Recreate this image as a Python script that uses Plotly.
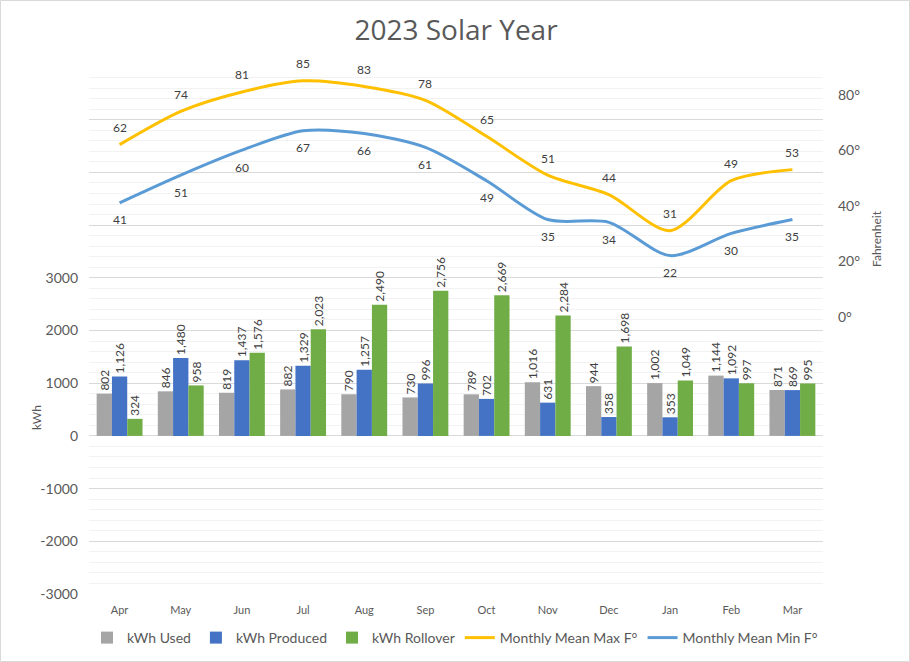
import plotly.graph_objects as go

months = ["Apr", "May", "Jun", "Jul", "Aug", "Sep", "Oct", "Nov", "Dec", "Jan", "Feb", "Mar"]
kwh_used = [802, 846, 819, 882, 790, 730, 789, 1016, 944, 1002, 1144, 871]
kwh_produced = [1126, 1480, 1437, 1329, 1257, 996, 702, 631, 358, 353, 1092, 869]
kwh_rollover = [324, 958, 1576, 2023, 2490, 2756, 2669, 2284, 1698, 1049, 997, 995]
temp_max = [62, 74, 81, 85, 83, 78, 65, 51, 44, 31, 49, 53]
temp_min = [41, 51, 60, 67, 66, 61, 49, 35, 34, 22, 30, 35]

kwh_ticks = list(range(-3000, 7001, 1000))
kwh_ticktext = [str(v) if v <= 3000 else "" for v in kwh_ticks]
deg_ticks = [0, 20, 40, 60, 80]

FONT = "Lato"
GREY_TXT = "#595959"
LBL = "#404040"

fig = go.Figure()
for name, vals, col in [("kWh Used", kwh_used, "#A5A5A5"),
                        ("kWh Produced", kwh_produced, "#4472C4"),
                        ("kWh Rollover", kwh_rollover, "#70AD47")]:
    fig.add_trace(go.Bar(x=months, y=vals, name=name, marker=dict(color=col, line=dict(width=0)),
                         texttemplate="%{y:,}", textposition="outside", textangle=-90,
                         constraintext="none", cliponaxis=False,
                         textfont=dict(family=FONT, size=12, color=LBL)))

fig.add_trace(go.Scatter(x=months, y=temp_max, name="Monthly Mean Max F°", yaxis="y2", mode="lines",
                         line=dict(color="#FFC000", width=3, shape="spline", smoothing=0.8)))
fig.add_trace(go.Scatter(x=months, y=temp_min, name="Monthly Mean Min F°", yaxis="y2", mode="lines",
                         line=dict(color="#5B9BD5", width=3, shape="spline", smoothing=0.8)))

# data labels on the temperature lines, pushed off the line like Excel does
labels = []
for vals, shift in [(temp_max, 17), (temp_min, -17)]:
    for m, v in zip(months, vals):
        labels.append(dict(x=m, y=v, xref="x", yref="y2", text=str(v), showarrow=False,
                           yshift=shift, font=dict(family=FONT, size=12, color=LBL)))

# plot area in px: x 89..823, y 67..594
fig.update_layout(
    width=910, height=662,
    margin=dict(l=89, r=87, t=67, b=68, autoexpand=False),
    paper_bgcolor="white", plot_bgcolor="white",
    font=dict(family=FONT, color=GREY_TXT),
    title=dict(text="2023 Solar Year", x=0.5, xref="paper", y=1 - 30 / 662, yref="container",
               yanchor="middle", font=dict(family="Open Sans", size=28, color=GREY_TXT)),
    barmode="group", bargap=0.25, bargroupgap=0,
    showlegend=True,
    legend=dict(orientation="h", x=0.5, xanchor="center", xref="container",
                y=1 - 638 / 662, yanchor="middle", yref="container",
                font=dict(family=FONT, size=14, color=GREY_TXT), itemwidth=30,
                traceorder="normal"),
    xaxis=dict(tickfont=dict(size=11, color=GREY_TXT), showgrid=False, showline=False,
               ticks="", ticklabelstandoff=8, automargin=False),
    yaxis=dict(range=[-3000, 7000], tickvals=kwh_ticks, ticktext=kwh_ticktext,
               tickfont=dict(size=14, color=GREY_TXT), gridcolor="#D9D9D9", gridwidth=1,
               zeroline=True, zerolinecolor="#D9D9D9", zerolinewidth=1,
               minor=dict(dtick=200, showgrid=True, gridcolor="#F2F2F2"),
               ticklabelstandoff=10, automargin=False),
    yaxis2=dict(range=[-100, 90], overlaying="y", side="right", tickvals=deg_ticks,
                ticktext=[f"{v}°" for v in deg_ticks], showgrid=False, zeroline=False,
                tickfont=dict(size=14, color=GREY_TXT), ticklabelstandoff=14, automargin=False),
    annotations=labels + [
        dict(text="kWh", xref="paper", yref="paper", x=(27 - 89) / 734, y=(594 - 432) / 527,
             showarrow=False, textangle=-90, font=dict(size=12, color=GREY_TXT)),
        dict(text="Fahrenheit", xref="paper", yref="paper", x=(886 - 89) / 734, y=(594 - 208) / 527,
             showarrow=False, textangle=-90, font=dict(size=12, color=GREY_TXT)),
    ],
    shapes=[dict(type="rect", xref="paper", yref="paper",
                 x0=(0.5 - 89) / 734, x1=(909.5 - 89) / 734,
                 y0=(594 - 661.5) / 527, y1=(594 - 0.5) / 527,
                 line=dict(color="#D9D9D9", width=1), layer="below")],
)

# drop the browser's default 8px body margin so the figure sits at the window origin
fig.write_html("out.html", config={"displayModeBar": False},
               post_script="document.body.style.margin='0';")
